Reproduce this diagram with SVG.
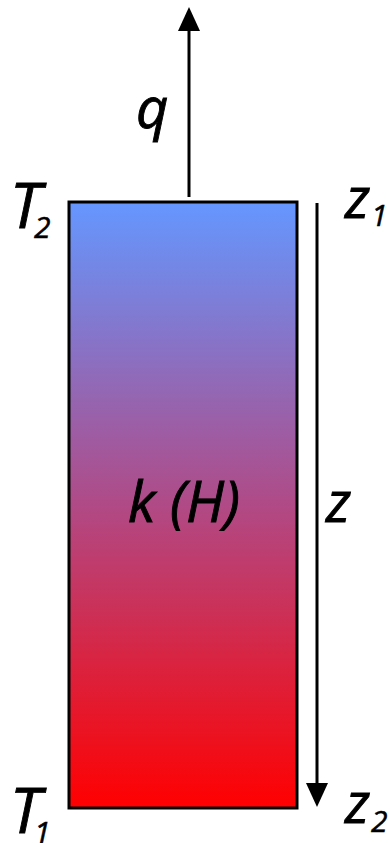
<svg xmlns="http://www.w3.org/2000/svg" width="390" height="843" viewBox="0 0 390 843">
  <style>
    .lbl { font-family: "Open Sans", "Liberation Sans", sans-serif; font-style: italic; fill: #000; stroke: #000; stroke-width: 0.9; }
    .big { font-size: 62px; }
    .mid { font-size: 56px; }
    .sub { font-size: 30px; stroke-width: 0.5; }
    .conn { stroke: #000; stroke-width: 3; fill: none; }
  </style>
  <defs>
    <linearGradient id="grad" x1="0" y1="0" x2="0" y2="1">
      <stop offset="0" stop-color="#6497FF"/>
      <stop offset="0.5" stop-color="#B04A86"/>
      <stop offset="1" stop-color="#FF0000"/>
    </linearGradient>
    <marker id="head" markerUnits="userSpaceOnUse" markerWidth="24" markerHeight="22" refX="4" refY="11" orient="auto" viewBox="0 0 24 22">
      <path d="M0,0 L24,11 L0,22 Z" fill="#000"/>
    </marker>
  </defs>
  <rect width="390" height="843" fill="#fff"/>

  <g id="body">
    <rect x="69" y="202" width="228" height="606" fill="url(#grad)" stroke="#000" stroke-width="3"/>
    <text class="lbl mid" x="184" y="522" text-anchor="middle">k (H)</text>
  </g>

  <g id="connectors">
    <line class="conn" x1="189" y1="197" x2="189" y2="27" marker-end="url(#head)"/>
    <line class="conn" x1="317" y1="203" x2="317" y2="787" marker-end="url(#head)"/>
  </g>

  <g id="label-q">
    <text class="lbl mid" x="136" y="128">q</text>
  </g>
  <g id="label-T2">
    <text class="lbl big" x="10" y="228">T</text>
    <text class="lbl sub" x="34" y="238">2</text>
  </g>
  <g id="label-T1">
    <text class="lbl big" x="10" y="833">T</text>
    <text class="lbl sub" x="34" y="843">1</text>
  </g>
  <g id="label-z1">
    <text class="lbl mid" x="345" y="218">z</text>
    <text class="lbl sub" x="371" y="226">1</text>
  </g>
  <g id="label-z2">
    <text class="lbl mid" x="345" y="823">z</text>
    <text class="lbl sub" x="371" y="832">2</text>
  </g>
  <g id="label-z">
    <text class="lbl mid" x="326" y="522">z</text>
  </g>
</svg>
